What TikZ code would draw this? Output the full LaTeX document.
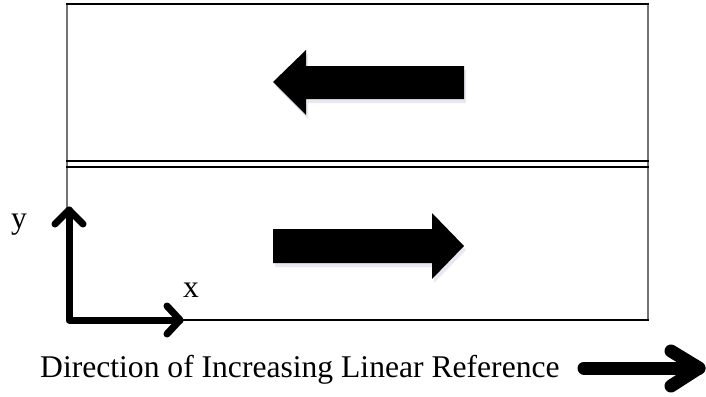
\documentclass[tikz,border=0pt]{standalone}
\usepackage{fontspec}
\setmainfont{Liberation Serif}
\begin{document}
\begin{tikzpicture}[x=1pt,y=-1pt,
  edgeline/.style={line width=2.6pt,black},
  sideline/.style={line width=1.5pt,black!55},
  axisline/.style={line width=7pt,line cap=round,line join=round},
  bigarrow/.style={fill=black},
  arrowshade/.style={fill=blue!20!gray!25,opacity=0.6},
  lbl/.style={font=\fontsize{31.6}{32}\selectfont,inner sep=0pt}]
\useasboundingbox (0,0) rectangle (706,396);

% road edges
\coordinate (tl) at (66,4);
\coordinate (tr) at (649,4);
\coordinate (bl) at (66,320);
\coordinate (br) at (649,320);
\draw[sideline] (67,4) -- (67,320);
\draw[sideline] (648,4) -- (648,320);
\draw[edgeline] (tl) -- (tr);
\draw[edgeline] (bl) -- (br);
% centre double line
\coordinate (m1l) at (66,160.5);
\coordinate (m1r) at (649,160.5);
\coordinate (m2l) at (66,166.5);
\coordinate (m2r) at (649,166.5);
\draw[line width=2pt] (m1l) -- (m1r);
\draw[line width=2pt] (m2l) -- (m2r);

% traffic arrows (with faint shading below)
\fill[arrowshade] (275,86) -- (308,54) -- (308,70) -- (466,70) -- (466,103) -- (308,103) -- (308,119) -- cycle;
\fill[bigarrow] (273,82) -- (306,50) -- (306,66) -- (464,66) -- (464,99) -- (306,99) -- (306,115) -- cycle;
\fill[arrowshade] (275,233) -- (434,233) -- (434,217) -- (466,250) -- (434,283) -- (434,267) -- (275,267) -- cycle;
\fill[bigarrow] (273,229) -- (432,229) -- (432,213) -- (464,246) -- (432,279) -- (432,263) -- (273,263) -- cycle;

% coordinate axes
\coordinate (o) at (69,320);
\coordinate (ytip) at (69,210);
\coordinate (xtip) at (180,320);
\draw[axisline] (ytip) -- (o) -- (xtip);
\draw[axisline] (55,224) -- (ytip) -- (83,224);
\draw[axisline] (167,306) -- (xtip) -- (167,334);
\node[lbl,anchor=base] (ylab) at (19,228) {y};
\node[lbl,anchor=base] (xlab) at (191,297) {x};

% reference direction
\node[lbl,anchor=base west] (dirtext) at (40,377) {Direction of Increasing Linear Reference};
\coordinate (ds) at (584,368);
\coordinate (dt) at (699,368);
\draw[line width=13pt,line cap=round,line join=round] (ds) -- (dt);
\draw[line width=13pt,line cap=round,line join=round] (671,351) -- (dt) -- (671,386);
\end{tikzpicture}
\end{document}
